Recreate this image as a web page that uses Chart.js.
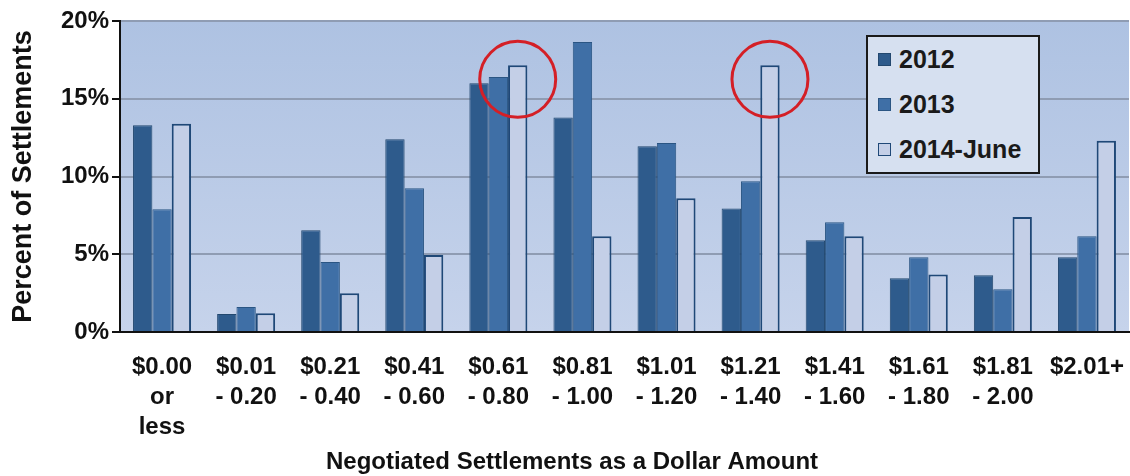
<!DOCTYPE html>
<html>
<head>
<meta charset="utf-8">
<script src="https://cdn.jsdelivr.net/npm/chart.js@4/dist/chart.umd.min.js"></script>
<style>
  body { margin: 0; background: #fff; }
  #wrap { position: relative; width: 1130px; height: 476px; }
  #legend {
    position: absolute; left: 866px; top: 35px; width: 174px; height: 139px;
    box-sizing: border-box; border: 2px solid #1a1a1a; background: #d6e0f0;
    font: bold 25px "Liberation Sans", Arial, sans-serif; color: #1a1a1a;
    padding-left: 10px;
  }
  #legend div { height: 45px; display: flex; align-items: center; }
  #legend span.sw { width: 13px; height: 13px; margin-right: 8px; box-sizing: border-box; }
</style>
</head>
<body>
<div id="wrap">
  <canvas id="settleChart" width="1130" height="476"></canvas>
  <div id="legend"></div>
</div>
<script>
// Negotiated settlements chart

const categories = [
  ["$0.00", "or", "less"],
  ["$0.01", "- 0.20"],
  ["$0.21", "- 0.40"],
  ["$0.41", "- 0.60"],
  ["$0.61", "- 0.80"],
  ["$0.81", "- 1.00"],
  ["$1.01", "- 1.20"],
  ["$1.21", "- 1.40"],
  ["$1.41", "- 1.60"],
  ["$1.61", "- 1.80"],
  ["$1.81", "- 2.00"],
  ["$2.01+"],
];
const seriesNames = ["2012", "2013", "2014-June"];
const values2012 = [13.3, 1.15, 6.55, 12.4, 16.0, 13.8, 11.95, 7.95, 5.9, 3.45, 3.65, 4.8];
const values2013 = [7.9, 1.6, 4.5, 9.25, 16.4, 18.65, 12.15, 9.7, 7.05, 4.8, 2.75, 6.15];
const values2014 = [13.4, 1.2, 2.5, 4.95, 17.15, 6.15, 8.6, 17.15, 6.15, 3.7, 7.4, 12.3];
const yTicks = [0, 5, 10, 15, 20];
const xTitle = "Negotiated Settlements as a Dollar Amount";
// bars with a red circle around them: [category index, series index]
const circled = [[4, 2], [7, 2]];

const fills = ["#2e5b8c", "#3f6fa6", "#c4cfe7"];
const borders = ["#23486f", "#2a5583", "#1f4877"];

const font = '"Liberation Sans", Arial, sans-serif';

const plotBackground = {
  id: "plotBackground",
  beforeDraw(chart) {
    const { ctx, chartArea: a } = chart;
    const g = ctx.createLinearGradient(0, a.top, 0, a.bottom);
    g.addColorStop(0, "#aec2e2");
    g.addColorStop(1, "#c6d3eb");
    ctx.save();
    ctx.fillStyle = g;
    ctx.fillRect(a.left, a.top, a.right - a.left, a.bottom - a.top);
    ctx.restore();
  },
};

const redCircles = {
  id: "redCircles",
  afterDatasetsDraw(chart) {
    const ctx = chart.ctx;
    ctx.save();
    ctx.strokeStyle = "#d41f26";
    ctx.lineWidth = 3;
    circled.forEach(([cat, ds]) => {
      const bar = chart.getDatasetMeta(ds).data[cat];
      ctx.beginPath();
      ctx.arc(bar.x, bar.y + 14, 38, 0, Math.PI * 2);
      ctx.stroke();
    });
    ctx.restore();
  },
};

// x title is centred on the whole picture, not on the plot
const bottomTitle = {
  id: "bottomTitle",
  afterDraw(chart) {
    const ctx = chart.ctx;
    ctx.save();
    ctx.font = "bold 24px " + font;
    ctx.fillStyle = "#111";
    ctx.textAlign = "center";
    ctx.textBaseline = "middle";
    ctx.fillText(xTitle, chart.width / 2 + 7, 462);
    ctx.restore();
  },
};

const settleChart = document.getElementById("settleChart").getContext("2d");

new Chart(settleChart, {
  type: "bar",
  data: {
    labels: categories,
    datasets: [values2012, values2013, values2014].map((vals, i) => ({
      label: seriesNames[i],
      data: vals,
      backgroundColor: fills[i],
      borderColor: borders[i],
      borderWidth: i === 2 ? 2 : 1,
      categoryPercentage: 0.69,
      barPercentage: 1.0,
    })),
  },
  options: {
    responsive: false,
    animation: false,
    layout: { padding: { top: 21, right: 1, left: 0, bottom: 0 } },
    plugins: {
      legend: { display: false },
      tooltip: { enabled: false },
    },
    scales: {
      x: {
        grid: { display: false, drawTicks: false },
        border: { display: true, color: "#111", width: 2 },
        ticks: {
          color: "#111",
          padding: 20,
          maxRotation: 0,
          autoSkip: false,
          font: { family: font, size: 24, weight: "bold", lineHeight: 1.25 },
        },
        afterFit: (scale) => {
          scale.height = 144;
          scale.paddingLeft = 0;
          scale.paddingRight = 0;
        },
      },
      y: {
        min: 0,
        max: 20,
        afterBuildTicks: (scale) => {
          scale.ticks = yTicks.map((v) => ({ value: v }));
        },
        grid: {
          color: "#8f9cb3",
          lineWidth: 2,
          tickColor: "#111",
          tickLength: 8,
        },
        border: { display: true, color: "#111", width: 2 },
        ticks: {
          color: "#111",
          padding: 3,
          callback: (v) => v + "%",
          font: { family: font, size: 24, weight: "bold" },
        },
        title: {
          display: true,
          text: "Percent of Settlements",
          color: "#111",
          padding: { top: 7, bottom: 0 },
          font: { family: font, size: 27, weight: "bold" },
        },
        afterFit: (scale) => {
          scale.width = 120;
        },
      },
    },
  },
  plugins: [plotBackground, redCircles, bottomTitle],
});

const legend = document.getElementById("legend");
seriesNames.forEach((name, i) => {
  const row = document.createElement("div");
  const sw = document.createElement("span");
  sw.className = "sw";
  sw.style.background = fills[i];
  sw.style.border = "1px solid " + borders[i];
  row.appendChild(sw);
  row.appendChild(document.createTextNode(name));
  legend.appendChild(row);
});
</script>
</body>
</html>
